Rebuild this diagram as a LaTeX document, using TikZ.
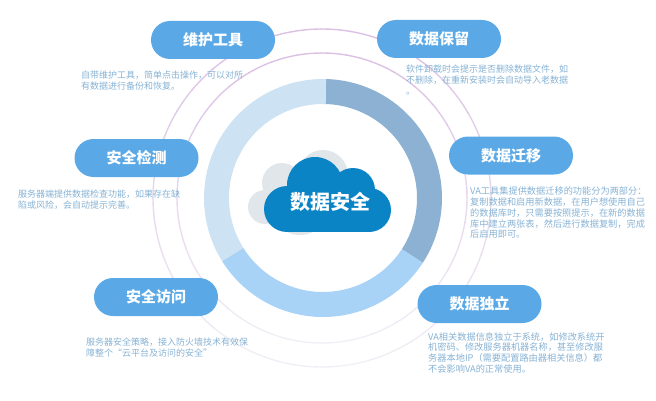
\documentclass[tikz,border=0pt]{standalone}
\usepackage{fontspec}
\setmainfont{Noto Sans CJK SC}
\usetikzlibrary{shapes.misc}
\definecolor{pillblue}{HTML}{5AA9E6}
\definecolor{descblue}{HTML}{86B2D4}
\definecolor{cloudblue}{HTML}{0B84C6}
\definecolor{cloudgray}{HTML}{E0E6EA}
\definecolor{arcpurple}{HTML}{DCC0E4}
\definecolor{arcfaint}{HTML}{F4F4F7}
\begin{document}
\begin{tikzpicture}[x=1pt,y=1pt]
			\tikzset{pill/.style={rounded rectangle,fill=pillblue,text=white,minimum width=124pt,minimum height=38pt,inner sep=0pt,font=\fontsize{15}{15}\selectfont\bfseries}}
			\tikzset{desc/.style={anchor=north west,align=left,inner sep=0pt,text=descblue,font=\fontsize{9}{10.7}\selectfont}}
			\tikzset{descwide/.style={desc,font=\fontsize{9.2}{10.7}\selectfont}}
			\tikzset{cloudword/.style={text=white,inner sep=0pt,font=\fontsize{20}{20}\selectfont\bfseries}}
			\useasboundingbox (0,0) rectangle (656,400);
			\coordinate (hub) at (323,202);
			\coordinate (orbit) at (322,202);
			\foreach \rad in {169,145} {
				\foreach \ang in {0,10,...,350} {
					\pgfmathsetmacro{\mixval}{100*(0.55+0.45*sin(\ang+5))}
					\draw[arcpurple!\mixval!arcfaint,line width=1.4pt] ([shift={(\ang:\rad)}]orbit) arc (\ang:\ang+10.5:\rad);
				}
			}
			\fill[color={rgb,255:red,141;green,177;blue,210}] ([shift={(88.5:119)}]hub) arc (88.5:-33:119) -- ([shift={(-33:94)}]hub) arc (-33:88.5:94) -- cycle;
			\fill[color={rgb,255:red,169;green,210;blue,247}] ([shift={(-33:119)}]hub) arc (-33:-148:119) -- ([shift={(-148:94)}]hub) arc (-148:-33:94) -- cycle;
			\fill[color={rgb,255:red,205;green,226;blue,243}] ([shift={(-148:119)}]hub) arc (-148:-271.5:119) -- ([shift={(88.5:94)}]hub) arc (88.5:212:94) -- cycle;
			\foreach \px/\py/\pr in {265/193/17,282/217/20,323/225/25,300/195/30,340/195/20} {
				\fill[cloudgray] (\px,\py) circle (\pr);
			}
			\foreach \px/\py/\pr in {287/191/23,315/215/28,353/210/22,369/190/22} {
				\fill[cloudblue] (\px,\py) circle (\pr);
			}
			\fill[cloudblue] (287,168) rectangle (369,200);
			\node[cloudword] (title) at (330,198.5) {数据安全};
			\node[pill] (tools) at (213,360) {维护工具};
			\node[pill] (detect) at (136.5,242) {安全检测};
			\node[pill] (retain) at (439,361) {数据保留};
			\node[pill] (migrate) at (511,244.5) {数据迁移};
			\node[pill] (indep) at (479.5,96) {数据独立};
			\node[pill] (access) at (156,103) {安全访问};
			\node[desc] (toolstext) at (81,329) {自带维护工具，简单点击操作，可以对所\\有数据进行备份和恢复。};
			\node[desc] (detecttext) at (18,210) {服务器端提供数据检查功能，如果存在缺\\陷或风险，会自动提示完善。};
			\node[desc] (retaintext) at (406,335) {软件卸载时会提示是否删除数据文件，如\\不删除，在重新安装时会自动导入老数据\\。};
			\node[descwide] (migratetext) at (470,213) {VA工具集提供数据迁移的功能分为两部分：\\复制数据和启用新数据，在用户想使用自己\\的数据库时，只需要按照提示，在新的数据\\库中建立两张表，然后进行数据复制，完成\\后启用即可。};
			\node[descwide] (indeptext) at (428,68) {VA相关数据信息独立于系统，如修改系统开\\机密码、修改服务器机器名称，甚至修改服\\务器本地IP（需要配置路由器相关信息）都\\不会影响VA的正常使用。};
			\node[desc] (accesstext) at (86,62) {服务器安全策略，接入防火墙技术有效保\\障整个“云平台及访问的安全”};
		\end{tikzpicture}
\end{document}
